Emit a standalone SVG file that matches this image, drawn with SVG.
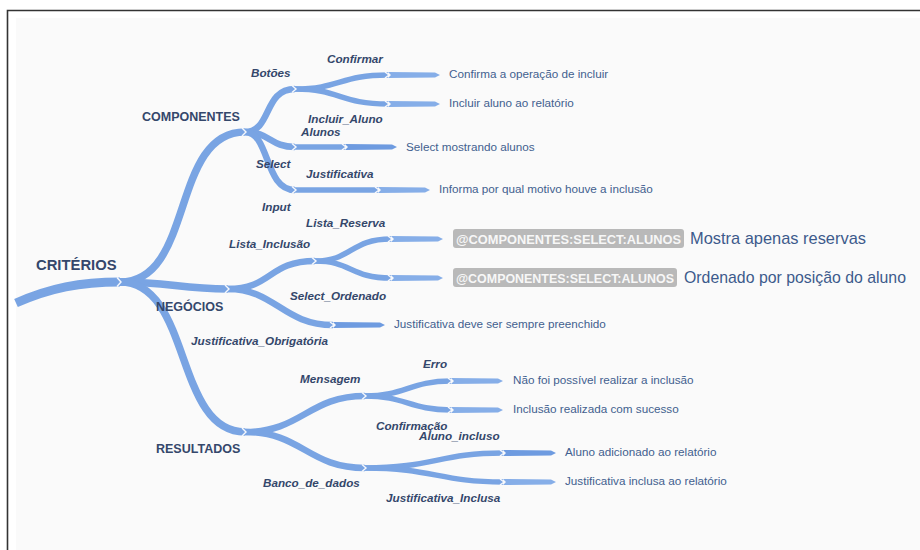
<svg xmlns="http://www.w3.org/2000/svg" width="920" height="550" viewBox="0 0 920 550">
  <defs>
    <style>
      .branch { fill: none; stroke: #79a4e3; stroke-linecap: butt; }
      .w0 { stroke-width: 9; }
      .w1 { stroke-width: 7.5; }
      .w2 { stroke-width: 6.5; }
      .w3 { stroke-width: 5.5; }
      .tip { fill: #86aee8; }
      .tip.dark { fill: #6e9be0; }
      .joint { fill: none; stroke: #f6f8fc; stroke-width: 1.4; }
      .root { font-family: "Liberation Sans", Arial, sans-serif; font-weight: bold; font-size: 14.8px; fill: #34476b; }
      .main { font-family: "Liberation Sans", Arial, sans-serif; font-weight: bold; font-size: 12.5px; fill: #34476b; }
      .sub { font-family: "Liberation Sans", Arial, sans-serif; font-weight: bold; font-style: italic; font-size: 11.7px; fill: #34476b; }
      .leaf { font-family: "Liberation Sans", Arial, sans-serif; font-size: 11.7px; fill: #425f8f; }
      .big { font-family: "Liberation Sans", Arial, sans-serif; font-size: 16.2px; fill: #3d5a8c; }
      .badge { fill: #b9b9b9; }
      .badge-text { font-family: "Liberation Sans", Arial, sans-serif; font-weight: bold; font-size: 12.6px; fill: #f7f7f7; }
    </style>
  </defs>

  <!-- page and frame -->
  <rect x="0" y="0" width="920" height="550" fill="#ffffff"/>
  <rect x="16" y="18" width="904" height="532" fill="#fafafa"/>
  <path d="M7.5,550 V10.5 H920" fill="none" stroke="#333333" stroke-width="1.6"/>

  <g id="connectors">
    <!-- trunk -->
    <path class="branch w0" d="M16,303 C50,288 80,282 120,282"/>
    <!-- first level -->
    <path class="branch w1" d="M120,282 C195,282 170,132 245,132"/>
    <path class="branch w1" d="M120,282 C170,282 180,289 228,289"/>
    <path class="branch w1" d="M120,282 C192,282 174,432 245,432"/>
    <!-- COMPONENTES -->
    <path class="branch w2" d="M245,132 C272,132 263,89 295,89"/>
    <path class="branch w2" d="M245,132 C270,132 270,147 295,147"/>
    <path class="branch w2" d="M245,132 C270,132 264,190 295,190"/>
    <path class="branch w3" d="M295,89 C340,89 340,75 388,75"/>
    <path class="branch w3" d="M295,89 C340,89 340,104 388,104"/>
    <path class="branch w3" d="M295,147 H345"/>
    <path class="branch w3" d="M295,190 H378"/>
    <!-- NEGÓCIOS -->
    <path class="branch w2" d="M228,289 C272,289 268,261 315,261"/>
    <path class="branch w2" d="M228,289 C275,289 283,325 333,325"/>
    <path class="branch w3" d="M315,261 C352,261 350,239 391,239"/>
    <path class="branch w3" d="M315,261 C352,261 350,278 391,278"/>
    <!-- RESULTADOS -->
    <path class="branch w2" d="M245,432 C302,432 308,396 365,396"/>
    <path class="branch w2" d="M245,432 C302,432 308,468 365,468"/>
    <path class="branch w3" d="M365,396 C405,396 410,381 451,381"/>
    <path class="branch w3" d="M365,396 C405,396 410,410 451,410"/>
    <path class="branch w3" d="M365,468 C432,468 440,453 503,453"/>
    <path class="branch w3" d="M365,468 C432,468 440,482 503,482"/>

    <!-- leaf arrows -->
    <polygon class="tip" points="388,72 435,72.5 440,75 435,77.5 388,78 391,75"/>
    <polygon class="tip" points="388,101 435,101.5 440,104 435,106.5 388,107 391,104"/>
    <polygon class="tip dark" points="345,144 392,144.5 397,147 392,149.5 345,150 348,147"/>
    <polygon class="tip" points="378,187 425,187.5 430,190 425,192.5 378,193 381,190"/>
    <polygon class="tip" points="391,236 438,236.5 443,239 438,241.5 391,242 394,239"/>
    <polygon class="tip" points="391,275 438,275.5 443,278 438,280.5 391,281 394,278"/>
    <polygon class="tip dark" points="333,322 380,322.5 385,325 380,327.5 333,328 336,325"/>
    <polygon class="tip" points="451,378 498,378.5 503,381 498,383.5 451,384 454,381"/>
    <polygon class="tip" points="451,407 498,407.5 503,410 498,412.5 451,413 454,410"/>
    <polygon class="tip dark" points="503,450 551,450.5 556,453 551,455.5 503,456 506,453"/>
    <polygon class="tip" points="503,479 551,479.5 556,482 551,484.5 503,485 506,482"/>

    <!-- segment joints -->
    <polyline class="joint" points="117,277.5 121,282 117,286.5"/>
    <polyline class="joint" points="242,128 246,132 242,136"/>
    <polyline class="joint" points="225,285 229,289 225,293"/>
    <polyline class="joint" points="242,428 246,432 242,436"/>
    <polyline class="joint" points="292,85.5 296,89 292,92.5"/>
    <polyline class="joint" points="292,143.5 296,147 292,150.5"/>
    <polyline class="joint" points="292,186.5 296,190 292,193.5"/>
    <polyline class="joint" points="385,72 389,75 385,78"/>
    <polyline class="joint" points="385,101 389,104 385,107"/>
    <polyline class="joint" points="342,144 346,147 342,150"/>
    <polyline class="joint" points="375,187 379,190 375,193"/>
    <polyline class="joint" points="312,257.5 316,261 312,264.5"/>
    <polyline class="joint" points="388,236 392,239 388,242"/>
    <polyline class="joint" points="388,275 392,278 388,281"/>
    <polyline class="joint" points="330,322 334,325 330,328"/>
    <polyline class="joint" points="362,392.5 366,396 362,399.5"/>
    <polyline class="joint" points="362,464.5 366,468 362,471.5"/>
    <polyline class="joint" points="448,378 452,381 448,384"/>
    <polyline class="joint" points="448,407 452,410 448,413"/>
    <polyline class="joint" points="500,450 504,453 500,456"/>
    <polyline class="joint" points="500,479 504,482 500,485"/>
  </g>

  <g id="criterios"><text class="root" x="36" y="270">CRITÉRIOS</text></g>

  <g id="componentes">
    <text class="main" x="142" y="121">COMPONENTES</text>
  </g>
  <g id="botoes"><text class="sub" x="251" y="77">Botões</text></g>
  <g id="confirmar">
    <text class="sub" x="327" y="63">Confirmar</text>
    <text class="leaf" x="449" y="78">Confirma a operação de incluir</text>
  </g>
  <g id="incluir-aluno">
    <text class="sub" x="308" y="123">Incluir_Aluno</text>
    <text class="leaf" x="449" y="107">Incluir aluno ao relatório</text>
  </g>
  <g id="alunos"><text class="sub" x="301" y="136">Alunos</text></g>
  <g id="select">
    <text class="sub" x="256" y="168">Select</text>
    <text class="leaf" x="406" y="151">Select mostrando alunos</text>
  </g>
  <g id="input"><text class="sub" x="262" y="211">Input</text></g>
  <g id="justificativa">
    <text class="sub" x="306" y="178">Justificativa</text>
    <text class="leaf" x="439" y="193">Informa por qual motivo houve a inclusão</text>
  </g>

  <g id="negocios"><text class="main" x="156" y="311">NEGÓCIOS</text></g>
  <g id="lista-inclusao"><text class="sub" x="229" y="248">Lista_Inclusão</text></g>
  <g id="lista-reserva">
    <text class="sub" x="306" y="227">Lista_Reserva</text>
    <rect class="badge" x="453" y="229" width="231" height="19" rx="3"/>
    <text class="badge-text" x="456" y="243.5" textLength="225" lengthAdjust="spacingAndGlyphs">@COMPONENTES:SELECT:ALUNOS</text>
    <text class="big" x="690" y="244" textLength="176" lengthAdjust="spacingAndGlyphs">Mostra apenas reservas</text>
  </g>
  <g id="select-ordenado">
    <text class="sub" x="290" y="300">Select_Ordenado</text>
    <rect class="badge" x="453" y="268" width="224" height="19" rx="3"/>
    <text class="badge-text" x="456" y="282.5" textLength="218" lengthAdjust="spacingAndGlyphs">@COMPONENTES:SELECT:ALUNOS</text>
    <text class="big" x="684" y="283" textLength="222" lengthAdjust="spacingAndGlyphs">Ordenado por posição do aluno</text>
  </g>
  <g id="justificativa-obrigatoria">
    <text class="sub" x="191" y="345">Justificativa_Obrigatória</text>
    <text class="leaf" x="394" y="328">Justificativa deve ser sempre preenchido</text>
  </g>

  <g id="resultados"><text class="main" x="156" y="453">RESULTADOS</text></g>
  <g id="mensagem"><text class="sub" x="300" y="383">Mensagem</text></g>
  <g id="erro">
    <text class="sub" x="423" y="368">Erro</text>
    <text class="leaf" x="513" y="384">Não foi possível realizar a inclusão</text>
  </g>
  <g id="confirmacao">
    <text class="sub" x="376" y="430">Confirmação</text>
    <text class="leaf" x="513" y="413">Inclusão realizada com sucesso</text>
  </g>
  <g id="banco-de-dados"><text class="sub" x="263" y="487">Banco_de_dados</text></g>
  <g id="aluno-incluso">
    <text class="sub" x="419" y="440">Aluno_incluso</text>
    <text class="leaf" x="565" y="456">Aluno adicionado ao relatório</text>
  </g>
  <g id="justificativa-inclusa">
    <text class="sub" x="386" y="502">Justificativa_Inclusa</text>
    <text class="leaf" x="565" y="485">Justificativa inclusa ao relatório</text>
  </g>
</svg>
